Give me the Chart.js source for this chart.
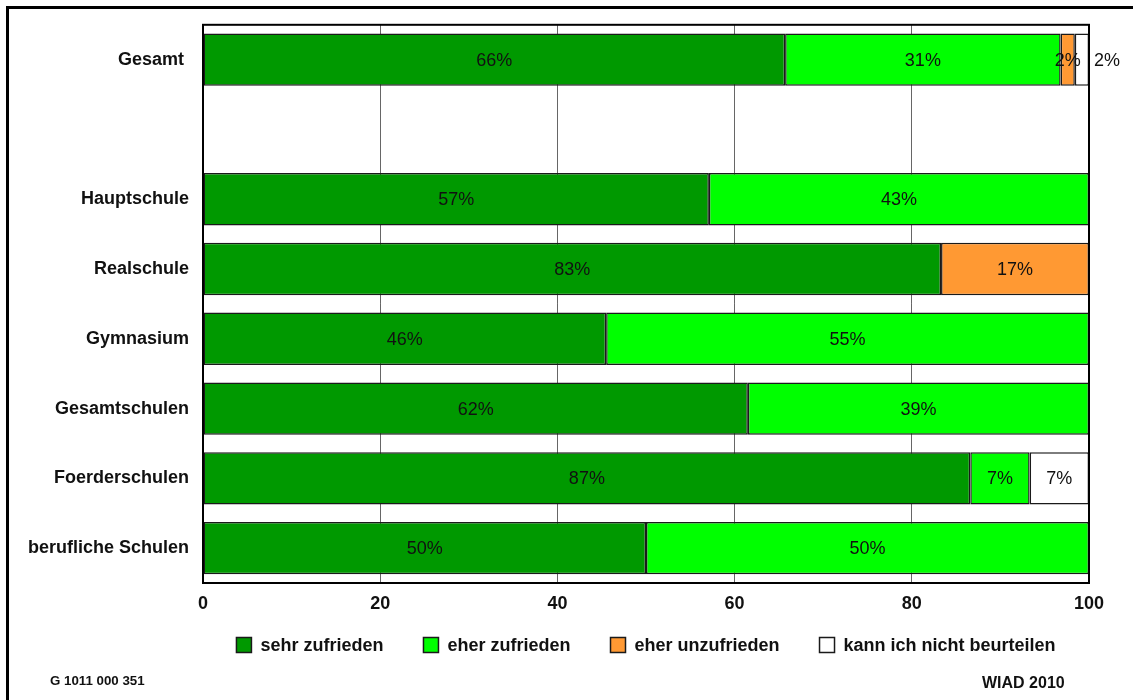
<!DOCTYPE html>
<html lang="de">
<head>
    <meta charset="UTF-8">
    <title>Zufriedenheit nach Schulform</title>
    <script src="https://cdn.jsdelivr.net/npm/chart.js"></script>
    <style>
        body { margin: 0; background: #fff; font-family: "Liberation Sans", Arial, sans-serif; }
        #wrap { position: relative; width: 1133px; height: 700px; overflow: hidden; }
        #frame { position: absolute; left: 6px; top: 6px; width: 1140px; height: 710px; border: 3px solid #000; }
        #chartBox { position: absolute; left: 0; top: 0; width: 1133px; height: 700px; }
        .foot { position: absolute; font-weight: bold; line-height: 1; color: #111; white-space: nowrap; }
    </style>
</head>
<body>
<div id="wrap">
    <div id="frame"></div>
    <div id="chartBox"><canvas id="satChart" width="1133" height="700"></canvas></div>
    <div class="foot" style="left:50px; top:674px; font-size:13.3px;">G 1011 000 351</div>
    <div class="foot" style="left:982px; top:675px; font-size:16px;">WIAD 2010</div>
</div>

<script>
    // Kategorien (leere Zeile zwischen Gesamt und den Schulformen)
    const categories = ['Gesamt ', '', 'Hauptschule', 'Realschule', 'Gymnasium', 'Gesamtschulen', 'Foerderschulen', 'berufliche Schulen'];

    // Anteile in Prozent
    const sehrZufrieden    = [65.7, null, 57.1, 83.3, 45.5, 61.5, 86.6, 50];
    const eherZufrieden    = [31.1, null, 42.9, null, 54.5, 38.5, 6.7, 50];
    const eherUnzufrieden  = [1.6,  null, null, 16.7, null, null, null, null];
    const nichtBeurteilen  = [1.6,  null, null, null, null, null, 6.7, null];

    const xTicks = [0, 20, 40, 60, 80, 100];

    const FONT = '"Liberation Sans", Arial, sans-serif';

    // Prozentwerte in die Balken schreiben, Rahmen um die Zeichenfläche
    const valueLabels = {
        id: 'valueLabels',
        afterDatasetsDraw(chart) {
            const ctx = chart.ctx;
            const area = chart.chartArea;
            ctx.save();
            ctx.font = '18px ' + FONT;
            ctx.fillStyle = '#111';
            ctx.textAlign = 'center';
            ctx.textBaseline = 'middle';
            chart.data.datasets.forEach((ds, di) => {
                const meta = chart.getDatasetMeta(di);
                meta.data.forEach((bar, i) => {
                    const v = ds.data[i];
                    if (v === null || v === undefined) return;
                    let x = (bar.x + bar.base) / 2;
                    // kleines letztes Segment: Beschriftung rechts neben dem Diagramm
                    if (di === chart.data.datasets.length - 1 && v < 3) x = area.right + 18;
                    ctx.fillText(Math.round(v) + '%', x, bar.y + 1);
                });
            });
            ctx.strokeStyle = '#000';
            ctx.lineWidth = 2;
            ctx.strokeRect(area.left, area.top, area.right - area.left, area.bottom - area.top);
            ctx.restore();
        }
    };

    // Legende unter der Zeichenfläche, zentriert auf die Zeichenfläche
    const bottomLegend = {
        id: 'bottomLegend',
        afterDraw(chart) {
            const ctx = chart.ctx;
            const area = chart.chartArea;
            const box = 15, gap = 9, spacing = 40, yMid = 645;
            ctx.save();
            ctx.font = 'bold 18px ' + FONT;
            const items = chart.data.datasets.map(ds => ({
                ds, w: box + gap + ctx.measureText(ds.label).width
            }));
            const total = items.reduce((s, it) => s + it.w, 0) + spacing * (items.length - 1);
            let x = (area.left + area.right) / 2 - total / 2;
            ctx.textBaseline = 'middle';
            ctx.textAlign = 'left';
            items.forEach(it => {
                ctx.fillStyle = it.ds.backgroundColor;
                ctx.fillRect(x, yMid - box / 2, box, box);
                ctx.strokeStyle = '#1a1a1a';
                ctx.lineWidth = 1.5;
                ctx.strokeRect(x, yMid - box / 2, box, box);
                ctx.fillStyle = '#111';
                ctx.fillText(it.ds.label, x + box + gap, yMid + 1);
                x += it.w + spacing;
            });
            ctx.restore();
        }
    };

    const ctx = document.getElementById('satChart').getContext('2d');
    new Chart(ctx, {
        type: 'bar',
        data: {
            labels: categories,
            datasets: [
                { label: 'sehr zufrieden', data: sehrZufrieden, backgroundColor: '#009900' },
                { label: 'eher zufrieden', data: eherZufrieden, backgroundColor: '#00ff00' },
                { label: 'eher unzufrieden', data: eherUnzufrieden, backgroundColor: '#ff9933' },
                { label: 'kann ich nicht beurteilen', data: nichtBeurteilen, backgroundColor: '#ffffff' }
            ].map(d => Object.assign(d, {
                borderColor: '#1a1a1a',
                borderWidth: 1.5,
                borderSkipped: false,
                barPercentage: 0.75,
                categoryPercentage: 1
            }))
        },
        options: {
            indexAxis: 'y',
            responsive: false,
            animation: false,
            layout: { padding: { top: 20, right: 44, bottom: 77, left: 0 } },
            scales: {
                x: {
                    stacked: true,
                    min: 0,
                    max: 100,
                    afterBuildTicks: (s) => { s.ticks = xTicks.map(v => ({ value: v })); },
                    afterFit: (s) => { s.height = 40; },
                    grid: { color: '#666', lineWidth: 1, drawTicks: false },
                    border: { display: false },
                    ticks: { padding: 10, color: '#111', font: { family: FONT, size: 18, weight: 'bold' } }
                },
                y: {
                    stacked: true,
                    afterFit: (s) => { s.width = 203; },
                    grid: { display: false, drawTicks: false },
                    border: { display: false },
                    ticks: { padding: 14, color: '#111', font: { family: FONT, size: 18, weight: 'bold' } }
                }
            },
            plugins: {
                legend: { display: false },
                tooltip: { enabled: false }
            }
        },
        plugins: [valueLabels, bottomLegend]
    });
</script>
</body>
</html>
